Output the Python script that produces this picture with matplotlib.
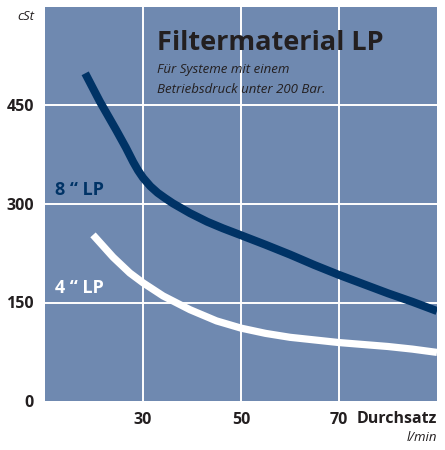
import matplotlib
matplotlib.use("Agg")
import matplotlib.pyplot as plt

# Data
flow_8lp = [18.2, 21.2, 24.5, 26.5, 28, 29, 30, 31.5, 33, 34.5, 36.1, 39.6, 43.1, 46.3, 49.8,
            55, 60, 65, 70, 75, 80, 85, 90]
visc_8lp = [499, 456, 413, 386, 364, 351, 340, 327, 317, 309, 301, 286, 273, 263, 253,
            238, 223, 207, 192, 178, 164, 151, 137]
flow_4lp = [19.8, 23.9, 27.3, 30, 34.1, 39.6, 45, 50, 55, 60, 65, 70, 75, 80, 85, 90]
visc_4lp = [253, 219, 195, 180, 160, 139, 122, 111, 103, 97, 93, 89, 86, 83, 79, 74]
y_ticks = [0, 150, 300, 450]
x_ticks = [30, 50, 70]

FONT = ["Open Sans", "DejaVu Sans"]
plt.rcParams["font.family"] = FONT

fig = plt.figure(figsize=(4.45, 4.5), dpi=100)
ax = fig.add_axes([45/445, 49/450, 392/445, 394/450])
ax.set_facecolor("#6f89b0")
ax.set_xlim(10, 90)
ax.set_ylim(0, 600)
for s in ax.spines.values():
    s.set_visible(False)
for x in x_ticks:
    ax.axvline(x, color="white", lw=1.4, zorder=1)
for y in y_ticks[1:]:
    ax.axhline(y, color="white", lw=1.4, zorder=1)

ax.plot(flow_8lp, visc_8lp, color="#003366", lw=5.8, solid_capstyle="butt",
        solid_joinstyle="round", zorder=3)
ax.plot(flow_4lp, visc_4lp, color="white", lw=5.2, solid_capstyle="butt",
        solid_joinstyle="round", zorder=3)

ax.set_xticks(x_ticks)
ax.set_xticklabels([str(v) for v in x_ticks], fontweight="bold", fontsize=11.5, color="#231f20")
ax.set_yticks(y_ticks)
ax.set_yticklabels([str(v) for v in y_ticks], fontweight="bold", fontsize=11.5, color="#231f20")
ax.tick_params(length=0, pad=8)

fig.text(55/445, 1 - 195/450, "8 “ LP", color="#003366",
         fontweight="bold", fontsize=13, va="baseline", ha="left")
fig.text(55/445, 1 - 293/450, "4 “ LP", color="white",
         fontweight="bold", fontsize=13, va="baseline", ha="left")

fig.text(157/445, 1 - 50/450, "Filtermaterial LP", fontweight="bold", fontsize=19.5,
         color="#231f20", ha="left", va="baseline")
fig.text(157/445, 1 - 73/450, "Für Systeme mit einem", fontstyle="italic", fontsize=9.5,
         color="#231f20", ha="left", va="baseline")
fig.text(157/445, 1 - 93/450, "Betriebsdruck unter 200 Bar.", fontstyle="italic", fontsize=9.5,
         color="#231f20", ha="left", va="baseline")
fig.text(34/445, 1 - 20/450, "cSt", fontstyle="italic", fontsize=9.5, color="#231f20",
         ha="right", va="baseline")
fig.text(437/445, 1 - 423/450, "Durchsatz", fontweight="bold", fontsize=11.5, color="#231f20",
         ha="right", va="baseline")
fig.text(437/445, 1 - 441/450, "l/min", fontstyle="italic", fontsize=9.5, color="#231f20",
         ha="right", va="baseline")

fig.savefig("out.png", dpi=100, facecolor="white")
